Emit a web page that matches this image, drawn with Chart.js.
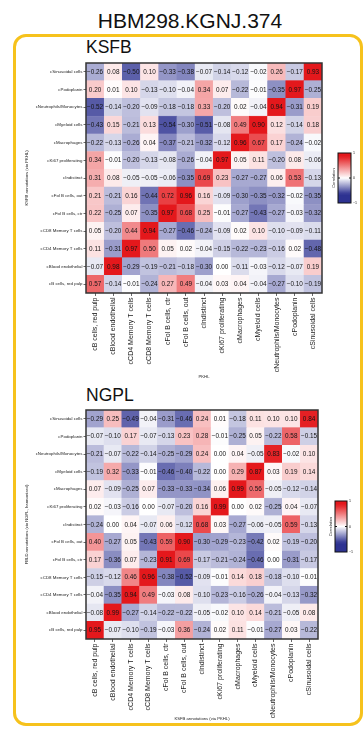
<!DOCTYPE html>
<html>
<head>
<meta charset="utf-8">
<script src="https://cdn.jsdelivr.net/npm/chart.js@4.4.1/dist/chart.umd.min.js"></script>
<style>
  html, body { margin: 0; padding: 0; background: #fff; }
  body { width: 364px; height: 731px; position: relative; overflow: hidden;
         font-family: "Liberation Sans", Arial, sans-serif; color: #111; }
  #mainTitle { position: absolute; left: 0; width: 380px; top: 10px; text-align: center;
               font-size: 21px; line-height: 1; }
  #frame { position: absolute; left: 13px; top: 34px; width: 350px; height: 692px;
           box-sizing: border-box; border: 3px solid #F6C21C; border-radius: 13px; }
  .panelTitle { position: absolute; left: 86px; font-size: 17.5px; line-height: 1; }
  .wrap { position: absolute; left: 0; width: 364px; }
  canvas { display: block; }
</style>
</head>
<body>
<div id="mainTitle">HBM298.KGNJ.374</div>
<div id="frame"></div>
<div class="panelTitle" style="top:39px">KSFB</div>
<div class="panelTitle" style="top:387px">NGPL</div>
<div class="wrap" style="top:58px;height:326px"><canvas id="ksfb" width="364" height="326"></canvas></div>
<div class="wrap" style="top:404px;height:327px"><canvas id="ngpl" width="364" height="327"></canvas></div>

<script>
// Cell-type annotations: x categories left to right, y rows bottom to top.
const cellTypes = [
  "cB cells, red pulp", "cBlood endothelial", "cCD4 Memory T cells", "cCD8 Memory T cells",
  "cFol B cells, ctr", "cFol B cells, out", "cIndistinct", "cKi67 proliferating",
  "cMacrophages", "cMyeloid cells", "cNeutrophils/Monocytes", "cPodoplanin", "cSinusoidal cells"
];

// KSFB vs PKHL correlations; ksfbCorr[k] is the row for cellTypes[k].
const ksfbCorr = [
  [ 0.57, -0.14, -0.01, -0.24,  0.27,  0.49, -0.04,  0.03,  0.04, -0.04, -0.27, -0.10, -0.19],
  [-0.07,  0.98, -0.29, -0.19, -0.21, -0.18, -0.30,  0.00, -0.11, -0.03, -0.12, -0.07,  0.19],
  [ 0.11, -0.31,  0.97,  0.50,  0.05,  0.02, -0.04, -0.15, -0.22, -0.23, -0.16,  0.02, -0.48],
  [ 0.05, -0.20,  0.44,  0.94, -0.27, -0.46, -0.24, -0.09,  0.02,  0.10, -0.10, -0.09, -0.11],
  [ 0.22, -0.25,  0.07, -0.35,  0.97,  0.68,  0.25, -0.01, -0.27, -0.43, -0.27, -0.03, -0.32],
  [ 0.21, -0.21,  0.16, -0.44,  0.72,  0.96,  0.16, -0.09, -0.30, -0.35, -0.32, -0.02, -0.35],
  [ 0.31,  0.08, -0.05, -0.05, -0.06, -0.35,  0.69,  0.23, -0.27, -0.27,  0.06,  0.53, -0.13],
  [ 0.34, -0.01, -0.20, -0.13, -0.08, -0.26, -0.04,  0.97,  0.05,  0.11, -0.20,  0.08, -0.06],
  [-0.22, -0.13, -0.26,  0.04, -0.37, -0.21, -0.32, -0.12,  0.96,  0.67,  0.17, -0.24, -0.02],
  [-0.43,  0.15, -0.21,  0.13, -0.54, -0.30, -0.51, -0.08,  0.49,  0.90,  0.12, -0.14,  0.18],
  [-0.52, -0.14, -0.20, -0.09, -0.18, -0.18,  0.33, -0.20,  0.02, -0.04,  0.94, -0.31,  0.19],
  [ 0.20,  0.01,  0.10, -0.13, -0.10, -0.04,  0.34,  0.07, -0.22, -0.01, -0.35,  0.97, -0.25],
  [-0.26,  0.08, -0.50,  0.10, -0.33, -0.38, -0.07, -0.14, -0.12, -0.02,  0.26, -0.17,  0.93]
];

// NGPL (harmonized) vs KSFB correlations; same row order.
const ngplCorr = [
  [ 0.95, -0.07, -0.10, -0.19, -0.03,  0.36, -0.24,  0.02,  0.11, -0.01, -0.27,  0.03, -0.22],
  [-0.08,  0.99, -0.27, -0.14, -0.22, -0.22, -0.05, -0.02,  0.10,  0.14, -0.21, -0.05,  0.08],
  [-0.04, -0.35,  0.94,  0.49, -0.03,  0.08, -0.10, -0.23, -0.16, -0.26, -0.04, -0.13, -0.32],
  [-0.15, -0.12,  0.46,  0.96, -0.38, -0.52, -0.09, -0.01,  0.14,  0.18, -0.18, -0.10, -0.01],
  [ 0.17, -0.36,  0.07, -0.23,  0.91,  0.69, -0.17, -0.21, -0.24, -0.46,  0.00, -0.31, -0.17],
  [ 0.40, -0.27,  0.05, -0.43,  0.59,  0.90, -0.30, -0.29, -0.23, -0.42,  0.02, -0.19, -0.20],
  [-0.24,  0.00,  0.04, -0.07,  0.06, -0.12,  0.68,  0.03, -0.27, -0.06, -0.05,  0.59, -0.13],
  [ 0.02, -0.03, -0.16,  0.00, -0.07, -0.20,  0.16,  0.99,  0.00,  0.02, -0.25,  0.04, -0.07],
  [ 0.07, -0.09, -0.25,  0.07, -0.33, -0.33, -0.34,  0.06,  0.99,  0.56, -0.05, -0.12, -0.14],
  [-0.19,  0.32, -0.33, -0.01, -0.46, -0.40, -0.22,  0.00,  0.29,  0.87,  0.03,  0.19,  0.14],
  [-0.21, -0.07, -0.22, -0.14, -0.25, -0.29,  0.24,  0.00,  0.04, -0.05,  0.83, -0.02,  0.10],
  [-0.07, -0.10,  0.17, -0.07, -0.13,  0.23,  0.28, -0.01, -0.25,  0.05, -0.22,  0.58, -0.15],
  [-0.29,  0.25, -0.49, -0.04, -0.31, -0.46,  0.24,  0.01, -0.18,  0.11,  0.10,  0.10,  0.84]
];

const colorbarTicks = ["1", "0", "\u22121"];

// Diverging blue - white - red scale; the blue arm saturates faster than the red one.
const LOW = [45, 50, 145], MID = [255, 255, 255], HIGH = [228, 24, 28];
function corrColour(v) {
  const a = Math.abs(v);
  const t = v < 0 ? Math.min(1, a * 1.55) : Math.min(1, a * 1.15);
  const end = v < 0 ? LOW : HIGH;
  const c = MID.map((m, i) => Math.round(m + (end[i] - m) * t));
  return `rgb(${c[0]},${c[1]},${c[2]})`;
}
function fmt(v) { return v.toFixed(2).replace('-', '\u2212'); }

const FONT = '"Liberation Sans", Arial, sans-serif';

// Writes each correlation in its cell, frames the plot area, draws the colour key.
const heatmapDecor = {
  id: 'heatmapDecor',
  afterDatasetsDraw(chart, args, opts) {
    const ctx = chart.ctx;
    const ca = chart.chartArea;
    ctx.save();
    ctx.font = `${opts.cellFont}px ${FONT}`;
    ctx.fillStyle = '#141414';
    ctx.textAlign = 'center';
    ctx.textBaseline = 'middle';
    chart.data.datasets.forEach((ds, di) => {
      chart.getDatasetMeta(di).data.forEach((el, j) => {
        const p = el.getCenterPoint();
        ctx.fillText(fmt(ds.corr[j]), p.x, p.y + 0.3);
      });
    });
    ctx.strokeStyle = '#333';
    ctx.lineWidth = 1.5;
    ctx.strokeRect(ca.left, ca.top, ca.right - ca.left, ca.bottom - ca.top);

    // colour key
    const k = opts.key;
    const g = ctx.createLinearGradient(0, k.top, 0, k.top + k.h);
    for (let s = 0; s <= 20; s++) {
      g.addColorStop(s / 20, corrColour(1 - s / 10));
    }
    ctx.fillStyle = g;
    ctx.fillRect(k.left, k.top, k.w, k.h);
    ctx.strokeStyle = '#111';
    ctx.lineWidth = 1;
    ctx.strokeRect(k.left, k.top, k.w, k.h);
    ctx.beginPath();
    const midY = k.top + k.h / 2;
    ctx.moveTo(k.left, midY); ctx.lineTo(k.left + 2, midY);
    ctx.moveTo(k.left + k.w - 2, midY); ctx.lineTo(k.left + k.w, midY);
    ctx.stroke();
    ctx.fillStyle = '#222';
    ctx.font = `3.6px ${FONT}`;
    ctx.textAlign = 'left';
    colorbarTicks.forEach((t, i) => {
      ctx.fillText(t, k.left + k.w + 2, k.top + i * k.h / 2);
    });
    ctx.translate(k.left - 4, midY);
    ctx.rotate(-Math.PI / 2);
    ctx.textAlign = 'center';
    ctx.font = `4px ${FONT}`;
    ctx.fillText('Correlation', 0, 0);
    ctx.restore();
  }
};

function buildHeatmap(canvasId, corr, cfg) {
  const n = cellTypes.length;
  const datasets = corr.map((row, k) => ({
    label: cellTypes[k],
    corr: row,
    data: row.map(() => [k, k + 1]),
    backgroundColor: row.map(corrColour),
    borderColor: row.map(corrColour),
    borderWidth: 0.4,
    borderSkipped: false,
    grouped: false,
    barPercentage: 1,
    categoryPercentage: 1
  }));
  return new Chart(document.getElementById(canvasId), {
    type: 'bar',
    data: { labels: cellTypes, datasets },
    options: {
      responsive: false,
      animation: false,
      events: [],
      layout: { padding: cfg.padding },
      plugins: {
        legend: { display: false },
        tooltip: { enabled: false },
        heatmapDecor: { cellFont: 6.4, key: cfg.key }
      },
      scales: {
        x: {
          type: 'category',
          offset: true,
          border: { display: false },
          grid: { offset: false, drawOnChartArea: false, drawTicks: true, tickLength: 3, color: '#444', lineWidth: 0.8 },
          ticks: { autoSkip: false, maxRotation: 90, minRotation: 90, padding: 1.5,
                   color: '#222', font: { family: FONT, size: 7 } },
          title: { display: true, text: cfg.xTitle, color: '#222',
                   font: { family: FONT, size: 4.2 }, padding: { top: 0, bottom: cfg.xTitlePad } },
          afterFit(scale) { scale.height = cfg.xHeight; }
        },
        y: {
          type: 'linear',
          min: 0, max: n,
          border: { display: false },
          grid: { drawOnChartArea: false, drawTicks: true, tickLength: 2.5, color: '#444', lineWidth: 0.8 },
          afterBuildTicks(scale) {
            scale.ticks = cellTypes.map((_, k) => ({ value: k + 0.5 }));
          },
          ticks: { autoSkip: false, padding: 1, color: '#222', font: { family: FONT, size: 4.4 },
                   callback: (v) => cellTypes[Math.floor(v)] },
          title: { display: true, text: cfg.yTitle, color: '#222',
                   font: { family: FONT, size: 4.2 }, padding: { top: 24, bottom: 0 } },
          afterFit(scale) { scale.width = 86; }
        }
      }
    },
    plugins: [heatmapDecor]
  });
}

buildHeatmap('ksfb', ksfbCorr, {
  padding: { left: 0, right: 42, top: 5, bottom: 0 },
  xHeight: 91, xTitlePad: 5,
  xTitle: 'PKHL',
  yTitle: 'KSFB annotations (via PKHL)',
  key: { left: 338, top: 95, w: 13, h: 50 }
});

buildHeatmap('ngpl', ngplCorr, {
  padding: { left: 0, right: 46, top: 6, bottom: 0 },
  xHeight: 92, xTitlePad: 10,
  xTitle: 'KSFB annotations (via PKHL)',
  yTitle: 'FBLD annotations (via NGPL, harmonized)',
  key: { left: 335, top: 97, w: 12, h: 51 }
});
</script>
</body>
</html>
